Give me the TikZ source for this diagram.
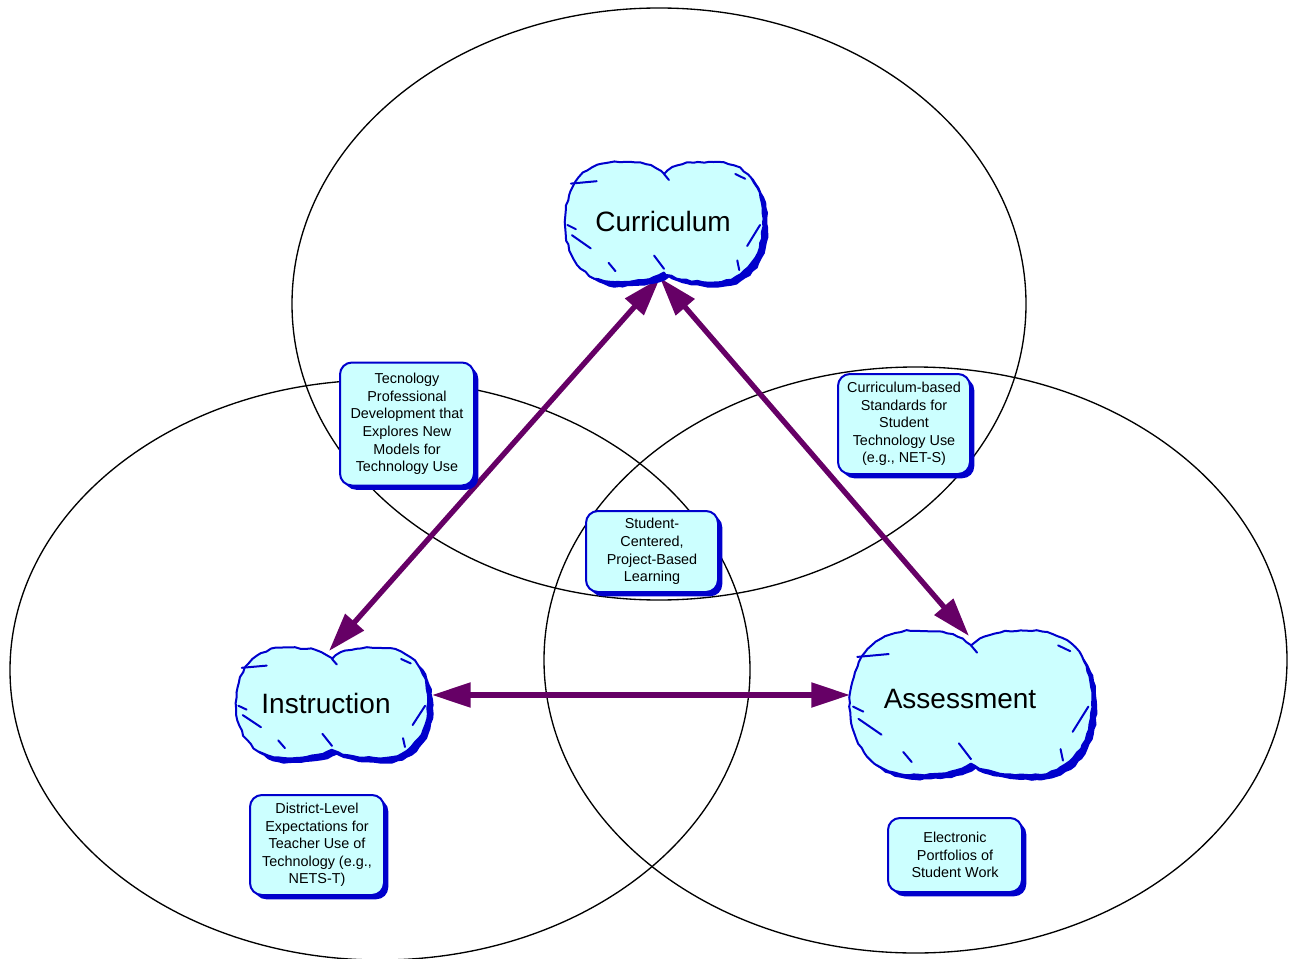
\documentclass[tikz,border=0pt]{standalone}
\usepackage{fontspec}
\setmainfont{Liberation Sans}
\usetikzlibrary{arrows.meta,shadows,decorations.pathmorphing}
\definecolor{cfill}{HTML}{CCFFFF}
\definecolor{cblue}{HTML}{0000CC}
\definecolor{cpurple}{HTML}{660066}
\pgfmathsetseed{7}
\tikzset{
  venn/.style={draw=black, line width=1pt},
  infobox/.style={draw=cblue, line width=1.5pt, fill=cfill, rounded corners=9pt,
    align=center, font=\fontsize{10.8}{13.2}\selectfont, inner sep=0pt,
    drop shadow={shadow xshift=3.2pt, shadow yshift=-3.2pt, fill=cblue, opacity=1}},
  link/.style={draw=cpurple, line width=4pt,
    {Triangle[length=29pt,width=18pt]}-{Triangle[length=29pt,width=18pt]}},
  cloudline/.style={draw=cblue, line width=1.5pt, line join=round, line cap=round},
  wobble/.style={decorate, decoration={random steps, segment length=4pt, amplitude=0.6pt}},
  cloudlabel/.style={font=\fontsize{21}{25}\selectfont, inner sep=0pt},
}
\newcommand{\cloudoutline}{(0,-0.8) .. controls (0.15,-1.02) and (0.33,-1.0) .. (0.5,-1.0)
  .. controls (0.85,-1.0) and (1,-0.6) .. (1,0)
  .. controls (1,0.6) and (0.8,1) .. (0.5,1)
  .. controls (0.3,1) and (0.1,0.96) .. (0,0.84)
  .. controls (-0.1,0.96) and (-0.3,1) .. (-0.5,1)
  .. controls (-0.8,1) and (-1,0.6) .. (-1,0)
  .. controls (-1,-0.6) and (-0.8,-1) .. (-0.5,-1)
  .. controls (-0.33,-1) and (-0.15,-1.02) .. cycle}
\newcommand{\mycloud}[4]{%
  \begin{scope}[shift={(#1+5,#2+5)}, xscale=#3, yscale=#4]
    \fill[cblue, wobble] \cloudoutline;
  \end{scope}
  \begin{scope}[shift={(#1,#2)}, xscale=#3, yscale=#4]
    \path[cloudline, fill=cfill, wobble] \cloudoutline;
    \draw[cloudline] (-0.94,-0.64) -- (-0.68,-0.68);
    \draw[cloudline] (-0.975,0.05) -- (-0.89,0.12);
    \draw[cloudline] (-0.93,0.22) -- (-0.74,0.44);
    \draw[cloudline] (-0.56,0.68) -- (-0.49,0.82);
    \draw[cloudline] (-0.1,0.56) -- (0,0.78);
    \draw[cloudline] (0.84,0.40) -- (0.97,0.05);
    \draw[cloudline] (0.74,0.64) -- (0.76,0.8);
    \draw[cloudline] (0.72,-0.8) -- (0.82,-0.72);
    \draw[cloudline] (0,-0.8) -- (0.05,-0.7);
  \end{scope}}
\begin{document}
\begin{tikzpicture}[x=0.75pt, y=-0.75pt]
\useasboundingbox (0,0) rectangle (1295,959);
% Venn ellipses
\draw[venn] (659,304) ellipse [x radius=367, y radius=296];
\draw[venn] (380,670) ellipse [x radius=370, y radius=290];
\draw[venn] (915.5,660) ellipse [x radius=371.5, y radius=293];
% connector end points at the clouds
\coordinate (currB) at (660,278);
\coordinate (instT) at (329,651);
\coordinate (instR) at (432,695);
\coordinate (assT) at (969,636);
\coordinate (assL) at (850,695);
% arrows
\draw[link] (currB) -- (instT);
\draw[link] (currB) -- (assT);
\draw[link] (instR) -- (assL);
% boxes
\node[infobox, minimum width=100.5pt, minimum height=92.25pt] (prof) at (407,424)
  {Tecnology\\Professional\\Development that\\Explores New\\Models for\\Technology Use};
\node[infobox, minimum width=99pt, minimum height=75pt] (stand) at (904,424)
  {Curriculum-based\\Standards for\\Student\\Technology Use\\(e.g., NET-S)};
\node[infobox, minimum width=99pt, minimum height=60.75pt] (pbl) at (652,551.5)
  {Student-\\Centered,\\Project-Based\\Learning};
\node[infobox, minimum width=100.5pt, minimum height=75pt] (dist) at (317,845)
  {District-Level\\Expectations for\\Teacher Use of\\Technology (e.g.,\\NETS-T)};
\node[infobox, minimum width=100.5pt, minimum height=55.5pt] (port) at (955,855)
  {Electronic\\Portfolios of\\Student Work};
% clouds
\mycloud{664}{222}{99}{60}
\mycloud{332}{703}{96}{55}
\mycloud{971}{703}{121}{72}
\node[cloudlabel] (curr) at (663,221) {Curriculum};
\node[cloudlabel] (inst) at (326,703) {Instruction};
\node[cloudlabel] (ass) at (960,699) {Assessment};
\end{tikzpicture}
\end{document}
